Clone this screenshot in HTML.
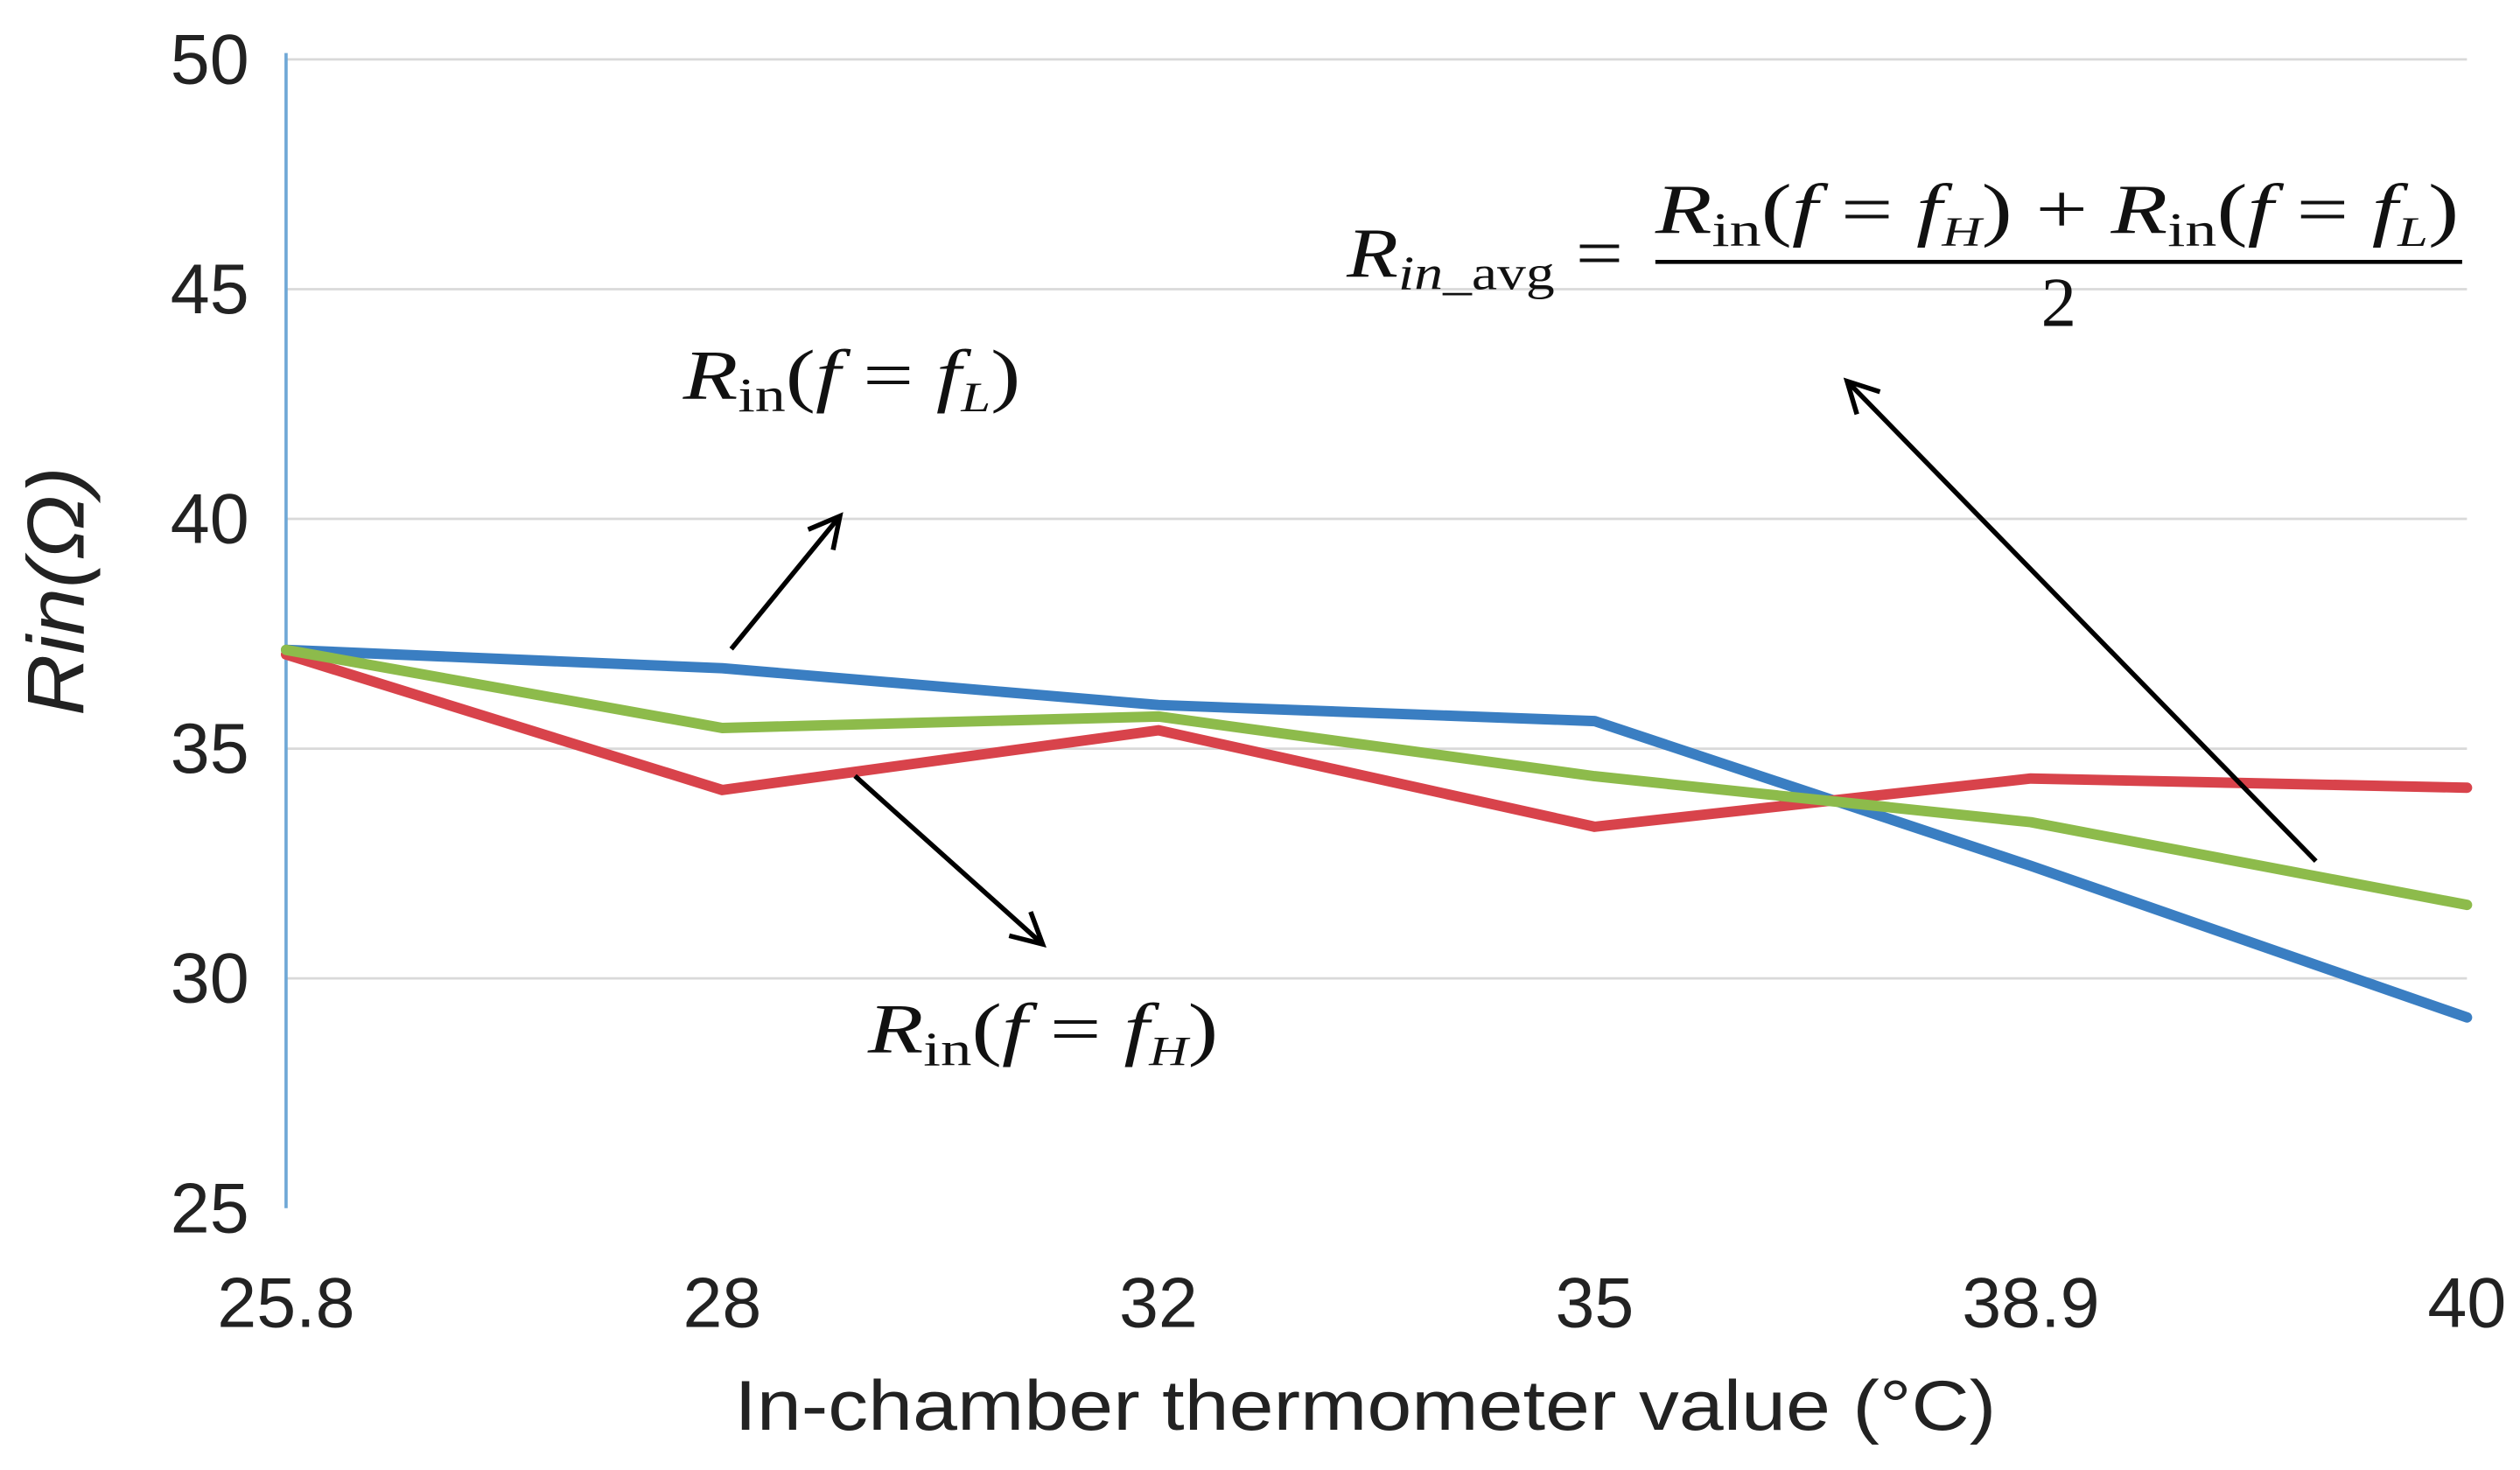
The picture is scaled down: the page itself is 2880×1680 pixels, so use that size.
<!DOCTYPE html>
<html><head><meta charset="utf-8"><style>
html,body{margin:0;padding:0;background:#fff;}
svg{display:block;}
.tick{font-family:"Liberation Sans",sans-serif;font-size:44px;fill:#222;}
.math{font-family:"Liberation Serif",serif;font-size:44px;fill:#111;}
</style></head><body>
<svg id="chart" width="2880" height="1680" viewBox="0 0 1568 915" preserveAspectRatio="none" xmlns="http://www.w3.org/2000/svg">
<defs><marker id="ah" markerWidth="30" markerHeight="30" refX="20" refY="12" orient="auto" markerUnits="userSpaceOnUse"><path d="M2,2 L21,12 L2,22" fill="none" stroke="#000" stroke-width="3"/></marker></defs>
<g id="grid"></g>
<line x1="178" y1="33" x2="178" y2="752" stroke="#6fa8d6" stroke-width="2"/>
<g id="yt"></g>
<g id="xt"></g>
<g id="series"></g>
<text x="52" y="368" transform="rotate(-90 52 368)" text-anchor="middle" class="tick" style="font-style:italic;font-size:50px" textLength="155" lengthAdjust="spacingAndGlyphs">Rin(Ω)</text>
<text x="457" y="890" class="tick" style="font-size:44px" textLength="785" lengthAdjust="spacingAndGlyphs">In-chamber thermometer value (°C)</text>
<text x="425" y="248" class="math" textLength="210" lengthAdjust="spacingAndGlyphs"><tspan font-style="italic">R</tspan><tspan font-size="30" dy="8">in</tspan><tspan dy="-8">(</tspan><tspan font-style="italic">f</tspan> = <tspan font-style="italic">f</tspan><tspan font-style="italic" font-size="26" dy="8">L</tspan><tspan dy="-8">)</tspan></text>
<text x="540" y="655" class="math" textLength="218" lengthAdjust="spacingAndGlyphs"><tspan font-style="italic">R</tspan><tspan font-size="30" dy="8">in</tspan><tspan dy="-8">(</tspan><tspan font-style="italic">f</tspan> = <tspan font-style="italic">f</tspan><tspan font-style="italic" font-size="26" dy="8">H</tspan><tspan dy="-8">)</tspan></text>
<g>
<text x="838" y="172" class="math" textLength="172" lengthAdjust="spacingAndGlyphs"><tspan font-style="italic">R</tspan><tspan font-style="italic" font-size="30" dy="8">in</tspan><tspan font-size="30">_avg</tspan><tspan dy="-8"> =</tspan></text>
<text x="1030" y="145" class="math" textLength="500" lengthAdjust="spacingAndGlyphs"><tspan font-style="italic">R</tspan><tspan font-size="30" dy="8">in</tspan><tspan dy="-8">(</tspan><tspan font-style="italic">f</tspan> = <tspan font-style="italic">f</tspan><tspan font-style="italic" font-size="26" dy="8">H</tspan><tspan dy="-8">) +  </tspan><tspan font-style="italic">R</tspan><tspan font-size="30" dy="8">in</tspan><tspan dy="-8">(</tspan><tspan font-style="italic">f</tspan> = <tspan font-style="italic">f</tspan><tspan font-style="italic" font-size="26" dy="8">L</tspan><tspan dy="-8">)</tspan></text>
<line x1="1030" y1="163" x2="1532" y2="163" stroke="#000" stroke-width="2.5"/>
<text x="1281" y="203" class="math" text-anchor="middle">2</text>
</g>
<line x1="455" y1="404" x2="522" y2="322" stroke="#000" stroke-width="3" marker-end="url(#ah)"/>
<line x1="532" y1="483" x2="648" y2="587" stroke="#000" stroke-width="3" marker-end="url(#ah)"/>
<line x1="1441" y1="536" x2="1150" y2="238" stroke="#000" stroke-width="3" marker-end="url(#ah)"/>
</svg>
<script>
const categories = ["25.8","28","32","35","38.9","40"];
const yTicks = [25,30,35,40,45,50];
const blueVals = [37.15,36.75,35.95,35.6,32.45,29.15];
const greenVals = [37.15,35.45,35.7,34.4,33.4,31.6];
const redVals = [37.05,34.1,35.4,33.3,34.35,34.15];
const NS="http://www.w3.org/2000/svg";
const x0=178,x1=1535,y25=752,y50=37;
function xs(i){return x0+i*(x1-x0)/(categories.length-1);}
function ys(v){return y25-(v-25)*(y25-y50)/25;}
const grid=document.getElementById('grid'),yt=document.getElementById('yt'),xt=document.getElementById('xt'),ser=document.getElementById('series');
yTicks.forEach(t=>{
  if(t>25){const l=document.createElementNS(NS,'line');
  
  
  l.setAttribute('x1',x0);l.setAttribute('x2',x1);l.setAttribute('y1',ys(t));l.setAttribute('y2',ys(t));
  l.setAttribute('stroke','#d9d9d9');l.setAttribute('stroke-width','1.5');grid.appendChild(l);}
  const tx=document.createElementNS(NS,'text');
  
  
  tx.setAttribute('x',155);tx.setAttribute('y',ys(t)+15);tx.setAttribute('text-anchor','end');tx.setAttribute('class','tick');
  tx.textContent=t;yt.appendChild(tx);
});
categories.forEach((c,i)=>{
  const tx=document.createElementNS(NS,'text');
  
  
  tx.setAttribute('x',xs(i));tx.setAttribute('y',826);tx.setAttribute('text-anchor','middle');tx.setAttribute('class','tick');
  tx.textContent=c;xt.appendChild(tx);
});
function draw(vals,color,name){
  const p=document.createElementNS(NS,'polyline');
  
  
  p.setAttribute('points',vals.map((v,i)=>xs(i)+','+ys(v)).join(' '));
  p.setAttribute('fill','none');p.setAttribute('stroke',color);p.setAttribute('stroke-width','6.5');p.setAttribute('stroke-linejoin','round');p.setAttribute('stroke-linecap','round');
  ser.appendChild(p);
}
draw(blueVals,'#3a7ec2','series-rin-fl');
draw(redVals,'#d8434b','series-rin-fh');
draw(greenVals,'#8dbb4b','series-rin-avg');
</script>
</body></html>
